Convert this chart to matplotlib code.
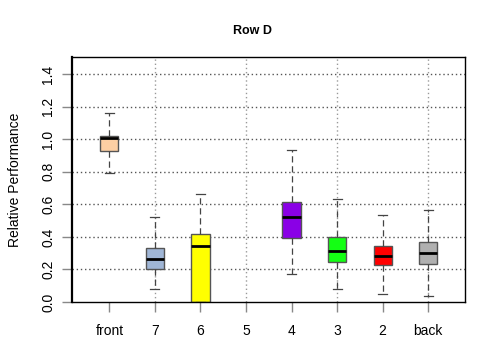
import matplotlib
matplotlib.use("Agg")
import matplotlib.pyplot as plt

plt.rcParams['font.family'] = ['Liberation Sans', 'DejaVu Sans']

labels = ["front", "7", "6", "5", "4", "3", "2", "back"]
colors = ["#FDCFA3", "#A0B6D6", "#FFFF00", "white", "#8A00E6", "#14FF14", "#FF0000", "#B0B0B0"]

# box stats (5 has no data)
whislo = [0.79, 0.08, 0.0, None, 0.17, 0.08, 0.05, 0.04]
q1     = [0.93, 0.205, 0.0, None, 0.395, 0.247, 0.225, 0.233]
med    = [1.004, 0.264, 0.344, None, 0.52, 0.313, 0.284, 0.299]
q3     = [1.02, 0.329, 0.417, None, 0.613, 0.401, 0.346, 0.37]
whishi = [1.158, 0.52, 0.661, None, 0.935, 0.632, 0.532, 0.564]

fig = plt.figure(figsize=(4.8, 3.6), dpi=100)
ax = fig.add_axes([0.15, 0.161, 0.819, 0.681])

ax.set_xlim(0.18, 8.81)
ax.set_ylim(0, 1.505)

# grid
for x in [2, 4, 6, 8]:
    ax.axvline(x, color="#999999", linestyle=(0, (1, 2)), linewidth=1, zorder=0)
for y in [0.2, 0.4, 0.6, 0.8, 1.0, 1.2, 1.4]:
    ax.axhline(y, color="#555555", linestyle=(0, (1, 2)), linewidth=1, zorder=0)

stats = []
pos = []
cols = []
for i in range(len(labels)):
    if med[i] is None:
        continue
    stats.append(dict(whislo=whislo[i], q1=q1[i], med=med[i], q3=q3[i], whishi=whishi[i], fliers=[]))
    pos.append(i + 1)
    cols.append(colors[i])

bp = ax.bxp(stats, positions=pos, widths=0.4, patch_artist=True, showfliers=False,
            boxprops=dict(edgecolor="#555555", linewidth=1),
            medianprops=dict(color="black", linewidth=2),
            whiskerprops=dict(color="#444444", linestyle=(0, (5, 3)), linewidth=0.9),
            capprops=dict(color="#444444", linewidth=0.9),
            capwidths=0.2)
for b, c in zip(bp["boxes"], cols):
    b.set_facecolor(c)
    b.set_zorder(2)

ax.set_xticks(range(1, 9))
ax.set_xticklabels(labels, fontsize=10)
ax.set_yticks([0, 0.2, 0.4, 0.6, 0.8, 1.0, 1.2, 1.4])
ax.set_yticklabels(["0.0", "0.2", "0.4", "0.6", "0.8", "1.0", "1.2", "1.4"], fontsize=10,
                   rotation=90, va="center")
ax.tick_params(axis="x", length=7, color="#888888", width=1, pad=9)
ax.tick_params(axis="y", length=7, color="#888888", width=1, pad=5)
for s in ax.spines.values():
    s.set_color("black")
    s.set_linewidth(1)
ax.spines["left"].set_linewidth(1.6)

ax.set_ylabel("Relative Performance", fontsize=10, labelpad=14)
fig.text(0.527, 0.913, "Row D", fontsize=9, fontweight="bold", ha="center", va="center")

fig.savefig("out.png", dpi=100)
